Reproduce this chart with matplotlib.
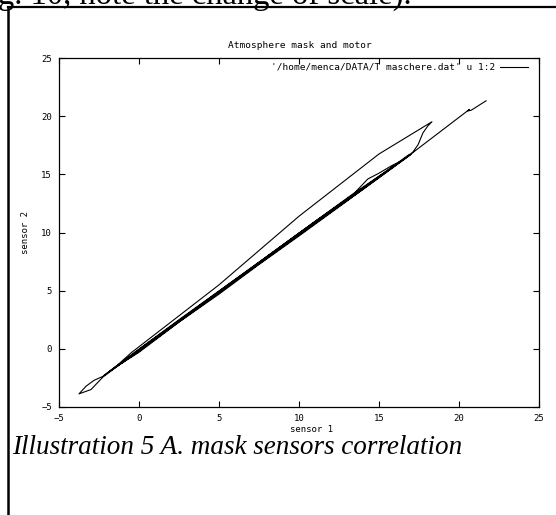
import matplotlib
matplotlib.use("Agg")
import matplotlib.pyplot as plt
from matplotlib.lines import Line2D

# sensor trace, in recording order
sensor1 = [21.69, 20.75, 20.55, 20.65, 17.0, 13.3, 10.0, 5.0, 0.0, -2.25,
           -3.0, -3.75, -3.3, -2.8, -2.25, -1.3, -0.5, 5.0, 10.0, 15.0,
           18.31, 18.06, 17.75, 17.44, 17.13, 16.94,
           16.4, 15.8, 15.0, 14.3, 13.3, 10.0, 5.0, 0.0, -1.5,
           0.0, 2.5, 5.0, 7.5, 10.0, 13.3, 17.0,
           13.3, 10.0, 7.5, 5.0, 2.5, 0.0, -2.2,
           0.0, 2.5, 5.0, 7.5, 10.0, 13.3, 16.8,
           14.0, 11.0, 8.0, 4.0, 1.0, -1.8,
           1.0, 4.0, 8.0, 11.0, 14.0, 16.9]
sensor2 = [21.32, 20.50, 20.45, 20.58, 16.75, 13.05, 9.80, 4.85, -0.12, -2.42,
           -3.50, -3.87, -3.20, -2.70, -2.36, -1.35, -0.35, 5.50, 11.40, 16.75,
           19.52, 19.17, 18.57, 17.54, 16.94, 16.68,
           16.15, 15.75, 15.10, 14.60, 13.15, 9.95, 4.95, -0.05, -1.60,
           -0.30, 2.30, 4.70, 7.25, 9.70, 13.00, 16.70,
           13.25, 9.95, 7.45, 4.98, 2.50, -0.02, -2.30,
           -0.22, 2.42, 4.80, 7.40, 9.82, 13.08, 16.55,
           13.72, 10.78, 7.78, 3.85, 0.92, -1.90,
           0.80, 3.80, 7.92, 10.95, 13.85, 16.72]

ticks = [-5, 0, 5, 10, 15, 20, 25]

W, H = 556, 515
fig = plt.figure(figsize=(W / 100, H / 100), dpi=100)
mono = "DejaVu Sans Mono"


def fx(px):
    return px / W


def fy(py):
    return 1 - py / H


ax = fig.add_axes([fx(59), fy(407), fx(539) - fx(59), fy(58) - fy(407)])
ax.plot(sensor1, sensor2, color="black", lw=0.8)
ax.set_xlim(-5, 25)
ax.set_ylim(-5, 25)
ax.set_xticks(ticks)
ax.set_yticks(ticks)
ax.tick_params(direction="in", length=4, width=0.8, top=True, right=True,
               labelsize=6.5, pad=5)
for lab in ax.get_xticklabels() + ax.get_yticklabels():
    lab.set_family(mono)
for s in ax.spines.values():
    s.set_linewidth(0.9)

fig.text(fx(300), fy(45), "Atmosphere mask and motor", family=mono,
         fontsize=6.8, ha="center", va="center")
fig.text(fx(495), fy(67), "'/home/menca/DATA/T maschere.dat' u 1:2",
         family=mono, fontsize=6.8, ha="right", va="center")
fig.add_artist(Line2D([fx(500), fx(528)], [fy(67), fy(67)],
                      color="black", lw=0.8))
fig.text(fx(311), fy(429.5), "sensor 1", family=mono, fontsize=6.5,
         ha="center", va="center")
fig.text(fx(25), fy(232), "sensor 2", family=mono, fontsize=6.5,
         ha="center", va="center", rotation=90)

# page text around the plot
fig.text(fx(12), fy(447), "Illustration 5 A. mask sensors correlation",
         family="Liberation Serif", style="italic", fontsize=19.5,
         ha="left", va="center")
fig.text(fx(-2), fy(4), "g. 10, note the change of scale).",
         family="Liberation Serif", fontsize=23.5, ha="left", va="baseline")
fig.add_artist(Line2D([fx(8), fx(556)], [fy(7), fy(7)], color="black", lw=1.6))
fig.add_artist(Line2D([fx(8), fx(8)], [fy(7), fy(515)], color="black", lw=1.8))

fig.savefig("out.png", dpi=100)
